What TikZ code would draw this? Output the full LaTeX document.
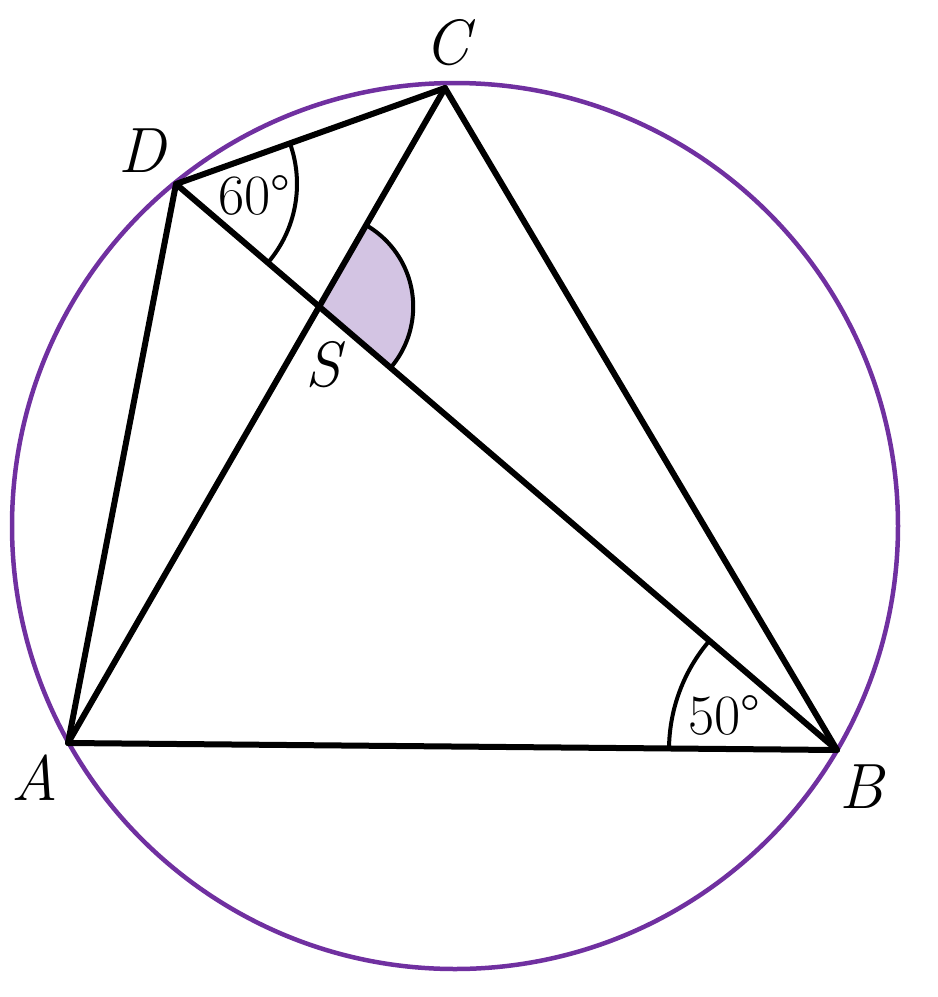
\documentclass[tikz,border=0pt]{standalone}
\usetikzlibrary{angles}
\definecolor{circpurple}{HTML}{7030A0}
\definecolor{lav}{HTML}{D3C4E3}
\begin{document}
\begin{tikzpicture}[x=1pt,y=-1pt,
  seg/.style={line width=6pt,line cap=round,line join=round},
  arcmark/.style={draw,line width=4pt},
  ptlabel/.style={font=\fontsize{64}{64}\selectfont\itshape,inner sep=0pt},
  anglabel/.style={font=\fontsize{57}{57}\selectfont,inner sep=0pt}]
\useasboundingbox (0,0) rectangle (938,997);
\coordinate (A) at (68,743);
\coordinate (B) at (837,750);
\coordinate (C) at (445,88);
\coordinate (D) at (176,184);
\coordinate (S) at (intersection of A--C and D--B);
\node[draw=circpurple,line width=4.5pt,circle,minimum size=886pt,inner sep=0pt] (circ) at (455,526) {};
\pic[arcmark,fill=lav,angle radius=94pt] {angle = B--S--C};
\pic[arcmark,angle radius=121pt] {angle = B--D--C};
\pic[arcmark,angle radius=168pt] {angle = D--B--A};
\draw[seg] (A) -- (B) -- (C) -- (D) -- cycle;
\draw[seg] (A) -- (C);
\draw[seg] (D) -- (B);
\node[ptlabel] (lA) at (35,778) {A};
\node[ptlabel] (lB) at (862,787) {B};
\node[ptlabel] (lC) at (447,43) {C};
\node[ptlabel] (lD) at (142,151) {D};
\node[ptlabel] (lS) at (323,365) {S};
\node[anglabel] (a60) at (254,195) {60°};
\node[anglabel] (a50) at (724,715) {50°};
\end{tikzpicture}
\end{document}
